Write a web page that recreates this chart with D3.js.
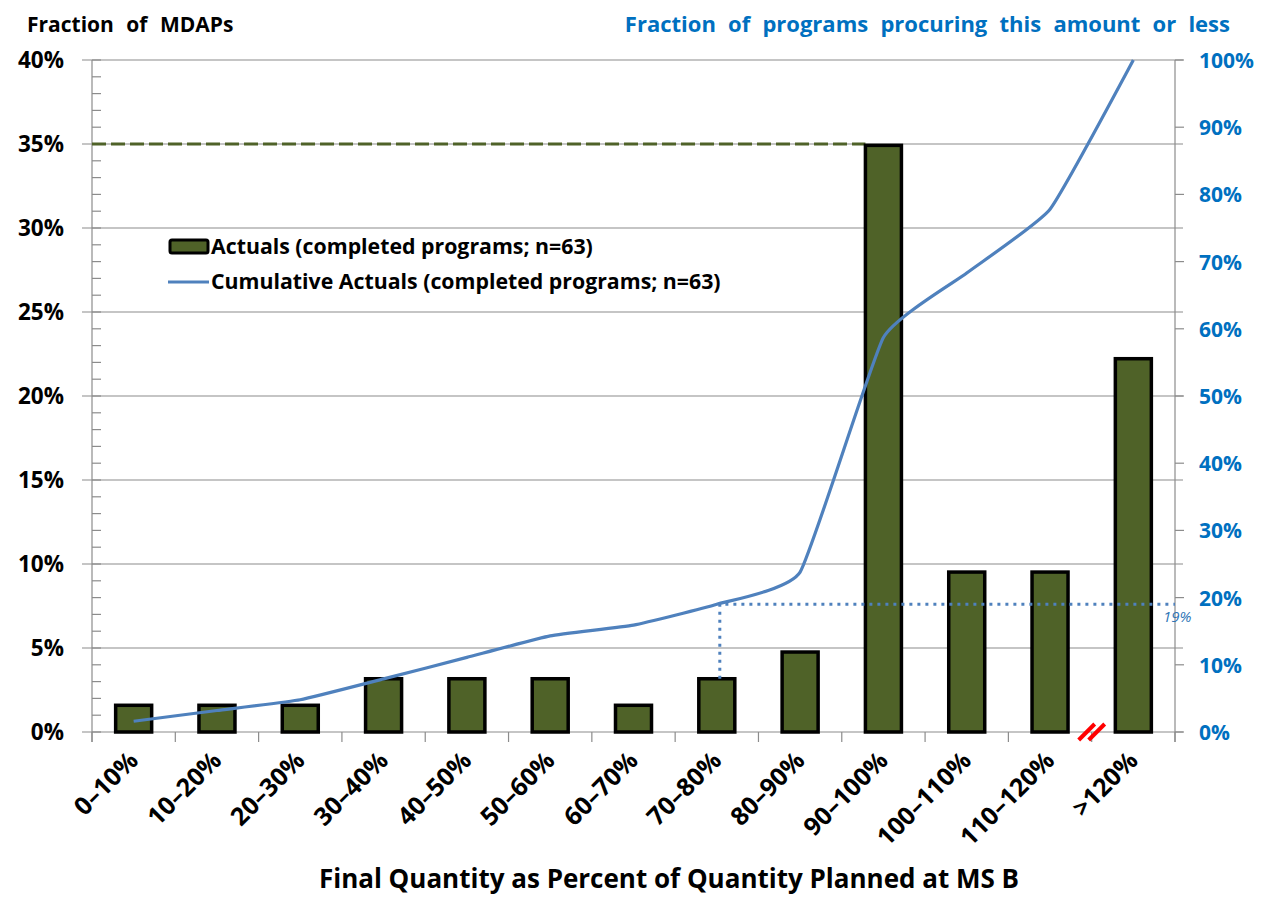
<!DOCTYPE html>
<meta charset="utf-8">
<script src="https://d3js.org/d3.v7.min.js"></script>
<style>
  body { margin: 0; background: #fff; }
  text { font-family: "Open Sans", Lato, sans-serif; }
</style>
<svg id="chart" width="1265" height="897"></svg>
<script>
  // data (fractions, n = 63)
  var categories = ["0–10%", "10–20%", "20–30%", "30–40%", "40–50%", "50–60%", "60–70%",
    "70–80%", "80–90%", "90–100%", "100–110%", "110–120%", ">120%"];
  var actuals = [0.0159, 0.0159, 0.0159, 0.0317, 0.0317, 0.0317, 0.0159,
    0.0317, 0.0476, 0.3492, 0.0952, 0.0952, 0.2222];
  var cumulative = [0.016, 0.032, 0.048, 0.079, 0.111, 0.143, 0.159,
    0.190, 0.238, 0.587, 0.683, 0.778, 1.0];
  var leftTicks = [0, 0.05, 0.10, 0.15, 0.20, 0.25, 0.30, 0.35, 0.40];
  var rightTicks = [0, 0.1, 0.2, 0.3, 0.4, 0.5, 0.6, 0.7, 0.8, 0.9, 1.0];
  var markerCategory = "70–80%";
  var markerValue = 0.19;
  var refLine = 0.35;

  var svg = d3.select("#chart");
  var mLeft = 92, mRight = 1175, mTop = 60, mBottom = 732;

  var x = d3.scaleBand().domain(categories).range([mLeft, mRight]);
  var yL = d3.scaleLinear().domain([0, 0.4]).range([mBottom, mTop]);
  var yR = d3.scaleLinear().domain([0, 1]).range([mBottom, mTop]);

  var blue = "#4f81bd", green = "#4f6228", grid = "#8c8c8c";

  // gridlines
  svg.append("g").selectAll("line").data(leftTicks).enter().append("line")
    .attr("x1", mLeft - 10).attr("x2", mRight + 8)
    .attr("y1", function (d) { return yL(d); }).attr("y2", function (d) { return yL(d); })
    .attr("stroke", grid).attr("stroke-width", 1.2);

  // left axis line + minor ticks
  svg.append("line").attr("x1", mLeft).attr("x2", mLeft).attr("y1", mTop).attr("y2", mBottom + 10)
    .attr("stroke", grid).attr("stroke-width", 1.2);
  svg.append("g").selectAll("line").data(d3.range(0, 41)).enter().append("line")
    .attr("x1", mLeft).attr("x2", mLeft + 9)
    .attr("y1", function (d) { return yL(d / 100); }).attr("y2", function (d) { return yL(d / 100); })
    .attr("stroke", grid).attr("stroke-width", 1.2);

  // right axis
  svg.append("line").attr("x1", mRight).attr("x2", mRight).attr("y1", mTop).attr("y2", mBottom + 10)
    .attr("stroke", grid).attr("stroke-width", 1.2);
  svg.append("g").selectAll("line").data(rightTicks).enter().append("line")
    .attr("x1", mRight).attr("x2", mRight + 9)
    .attr("y1", function (d) { return yR(d); }).attr("y2", function (d) { return yR(d); })
    .attr("stroke", grid).attr("stroke-width", 1.2);

  // x ticks at category boundaries
  var bounds = categories.map(function (c) { return x(c); }).concat([mRight]);
  svg.append("g").selectAll("line").data(bounds).enter().append("line")
    .attr("x1", function (d) { return d; }).attr("x2", function (d) { return d; })
    .attr("y1", mBottom).attr("y2", mBottom + 10)
    .attr("stroke", grid).attr("stroke-width", 1.2);

  // tick labels
  svg.append("g").selectAll("text").data(leftTicks).enter().append("text")
    .attr("x", 64).attr("y", function (d) { return yL(d) + 8; })
    .attr("text-anchor", "end").style("font-size", "22.5px").style("font-weight", "bold")
    .text(function (d) { return Math.round(d * 100) + "%"; });
  svg.append("g").selectAll("text").data(rightTicks).enter().append("text")
    .attr("x", 1199).attr("y", function (d) { return yR(d) + 8; })
    .attr("text-anchor", "start").style("font-size", "21px").style("font-weight", "bold")
    .attr("fill", "#0070c0")
    .text(function (d) { return Math.round(d * 100) + "%"; });

  // reference dashed line at 35%
  var bw = 36;
  svg.append("line")
    .attr("x1", mLeft).attr("x2", x("90–100%") + x.bandwidth() / 2 - bw / 2)
    .attr("y1", yL(refLine)).attr("y2", yL(refLine))
    .attr("stroke", green).attr("stroke-width", 3).attr("stroke-dasharray", "14,5");

  // bars
  svg.append("g").selectAll("rect").data(actuals).enter().append("rect")
    .attr("x", function (d, i) { return x(categories[i]) + x.bandwidth() / 2 - bw / 2; })
    .attr("y", function (d) { return yL(d); })
    .attr("width", bw)
    .attr("height", function (d) { return mBottom - yL(d); })
    .attr("fill", green).attr("stroke", "#000").attr("stroke-width", 3.5);

  // dotted marker lines
  var mi = categories.indexOf(markerCategory);
  var mx = x(markerCategory) + x.bandwidth() / 2 + 3;
  svg.append("path")
    .attr("d", "M" + mx + "," + yL(actuals[mi]) + "V" + yR(markerValue) + "H" + mRight)
    .attr("fill", "none").attr("stroke", blue).attr("stroke-width", 3)
    .attr("stroke-dasharray", "3,5");
  svg.append("text").attr("x", 1163).attr("y", 622)
    .style("font-size", "15px").style("font-style", "italic").attr("fill", "#2e75b6")
    .text(Math.round(markerValue * 100) + "%");

  // cumulative line (lightly smoothed, like the original)
  var line = d3.line()
    .x(function (d, i) { return x(categories[i]) + x.bandwidth() / 2; })
    .y(function (d) { return yR(d); })
    .curve(d3.curveCardinal.tension(0.6));
  svg.append("path").datum(cumulative).attr("d", line)
    .attr("fill", "none").attr("stroke", blue).attr("stroke-width", 3.2);

  // axis break marks
  var bx = x(">120%");
  [-5, 5].forEach(function (o) {
    svg.append("line")
      .attr("x1", bx + o - 8).attr("y1", mBottom + 8)
      .attr("x2", bx + o + 8).attr("y2", mBottom - 8)
      .attr("stroke", "#ff0000").attr("stroke-width", 4);
  });

  // x labels
  svg.append("g").selectAll("text").data(categories).enter().append("text")
    .attr("transform", function (d) {
      return "translate(" + (x(d) + x.bandwidth() / 2 + 6) + "," + (mBottom + 30) + ") rotate(-45)";
    })
    .attr("text-anchor", "end").style("font-size", "25px").style("font-weight", "bold")
    .text(function (d) { return d; });

  // titles
  svg.append("text").attr("x", 27).attr("y", 32)
    .style("font-size", "21px").style("font-weight", "bold").style("word-spacing", "7px")
    .text("Fraction of MDAPs");
  svg.append("text").attr("x", 1230).attr("y", 32).attr("text-anchor", "end")
    .style("font-size", "22px").style("font-weight", "bold").style("word-spacing", "6.5px")
    .attr("fill", "#0070c0")
    .text("Fraction of programs procuring this amount or less");
  svg.append("text").attr("x", 669).attr("y", 888).attr("text-anchor", "middle")
    .style("font-size", "26px").style("font-weight", "bold")
    .text("Final Quantity as Percent of Quantity Planned at MS B");

  // legend
  var lg = svg.append("g");
  lg.append("rect").attr("x", 170).attr("y", 240).attr("width", 38).attr("height", 13)
    .attr("fill", green).attr("stroke", "#000").attr("stroke-width", 3).attr("rx", 2);
  lg.append("text").attr("x", 211).attr("y", 254).style("font-size", "21.3px").style("font-weight", "bold")
    .text("Actuals (completed programs; n=63)");
  lg.append("line").attr("x1", 168).attr("x2", 209).attr("y1", 282).attr("y2", 282)
    .attr("stroke", blue).attr("stroke-width", 3);
  lg.append("text").attr("x", 211).attr("y", 289).style("font-size", "21.3px").style("font-weight", "bold")
    .text("Cumulative Actuals (completed programs; n=63)");
</script>
